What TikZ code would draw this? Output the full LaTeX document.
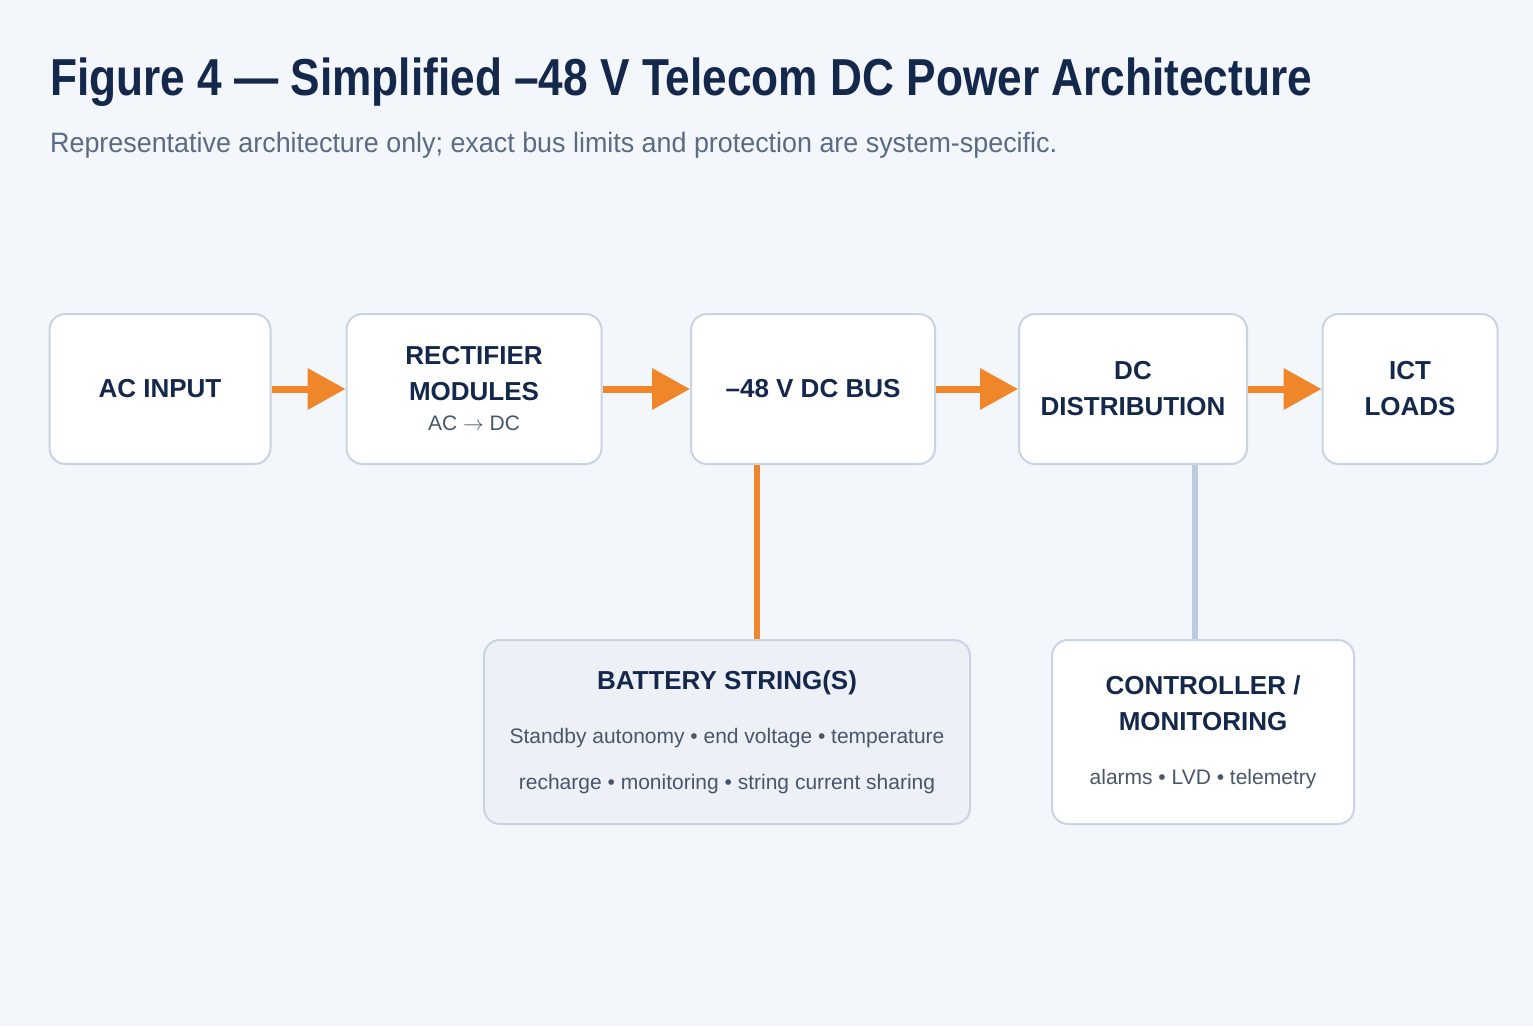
\documentclass[tikz,border=0pt]{standalone}
\usepackage{fontspec}
\setmainfont{Liberation Sans}
\usetikzlibrary{arrows.meta}
\definecolor{kBg}{HTML}{F3F6FA}
\definecolor{kNavy}{HTML}{14284B}
\definecolor{kGreyBlue}{HTML}{5A6B85}
\definecolor{kEdge}{HTML}{C9D3E3}
\definecolor{kFillB}{HTML}{EDF1F7}
\definecolor{kOrange}{HTML}{F0862A}
\definecolor{kLink}{HTML}{BCCBDF}
\newcommand{\subtxt}[1]{{\fontsize{21}{30}\selectfont\mdseries\color{kGreyBlue!80!black}#1}}
\tikzset{
  box/.style={draw=kEdge,line width=2pt,fill=white,rounded corners=16pt,align=center,
    text=kNavy,font=\fontsize{26}{36}\selectfont\bfseries,inner sep=0pt},
  flow/.style={draw=kOrange,line width=7pt,-{Triangle[length=38pt,width=40pt]}}
}
\begin{document}
\begin{tikzpicture}[x=1pt,y=-1pt]
  \fill[kBg] (0,0) rectangle (1533,1026);

  \node[anchor=base west,text=kNavy,font=\fontsize{52}{60}\selectfont\bfseries,inner sep=0pt] (title) at (50,95) {\scalebox{0.85}[1]{Figure 4 — Simplified –48 V Telecom DC Power Architecture}};
  \node[anchor=base west,text=kGreyBlue,font=\fontsize{28}{34}\selectfont,inner sep=0pt] (subtitle) at (50,152) {\scalebox{0.96}[1]{Representative architecture only; exact bus limits and protection are system-specific.}};

  \node[box,minimum width=221pt,minimum height=150pt] (ac) at (160,389) {AC INPUT};
  \node[box,minimum width=255pt,minimum height=150pt] (rect) at (474,389) {RECTIFIER\\MODULES\\[-6pt]\subtxt{AC $\rightarrow$ DC}};
  \node[box,minimum width=244pt,minimum height=150pt] (bus) at (813,389) {–48 V DC BUS};
  \node[box,minimum width=228pt,minimum height=150pt] (dist) at (1133,389) {DC\\DISTRIBUTION};
  \node[box,minimum width=175pt,minimum height=150pt] (ict) at (1410,389) {ICT\\LOADS};

  \node[box,fill=kFillB,minimum width=486pt,minimum height=184pt] (batt) at (727,732)
    {BATTERY STRING(S)\\[18pt]\subtxt{Standby autonomy • end voltage • temperature}\\[10pt]\subtxt{recharge • monitoring • string current sharing}};
  \node[box,minimum width=302pt,minimum height=184pt] (ctrl) at (1203,732)
    {CONTROLLER /\\MONITORING\\[18pt]\subtxt{alarms • LVD • telemetry}};

  \draw[flow] (ac) -- (rect);
  \draw[flow] (rect) -- (bus);
  \draw[flow] (bus) -- (dist);
  \draw[flow] (dist) -- (ict);

  \coordinate (busTap) at (757,465);
  \coordinate (battTap) at (757,639);
  \coordinate (distTap) at (1195,465);
  \coordinate (ctrlTap) at (1195,639);
  \draw[kOrange,line width=6pt] (busTap) -- (battTap);
  \draw[kLink,line width=6pt] (distTap) -- (ctrlTap);
\end{tikzpicture}
\end{document}
